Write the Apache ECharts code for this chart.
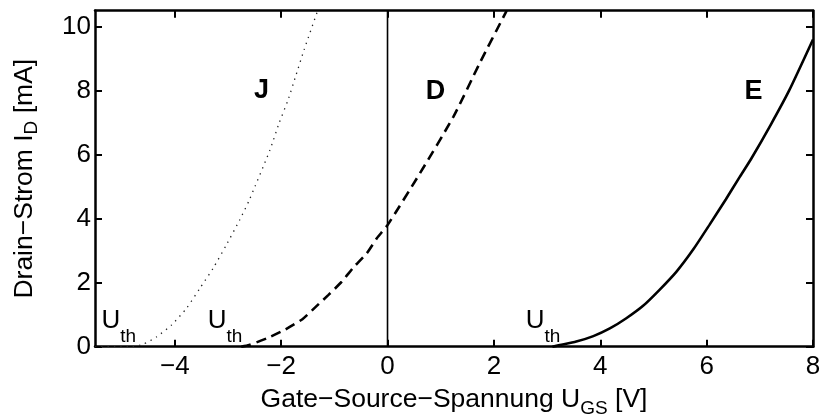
<!DOCTYPE html>
<html>
<head>
<meta charset="utf-8">
<script src="https://cdn.jsdelivr.net/npm/echarts@6/dist/echarts.min.js"></script>
<style>
  html, body { margin: 0; padding: 0; background: #fff; }
  #chart { width: 821px; height: 414px; }
</style>
</head>
<body>
<div id="chart"></div>
<script>
// Transfer characteristics (U_GS in V, I_D in mA)
const jfetU = [-5.5, -4.8, -4.59, -4.34, -4.06, -3.78, -3.53, -3.28, -3.03, -2.78, -2.6, -2.21, -2.04, -1.87, -1.72, -1.57, -1.31];
const jfetI = [0, 0, 0.08, 0.31, 0.68, 1.2, 1.82, 2.45, 3.18, 3.96, 4.58, 6.15, 6.98, 7.71, 8.49, 9.27, 10.52];

const depU = [-2.75, -2.6, -2.23, -1.92, -1.6, -1.36, -1.11, -0.86, -0.64, -0.39, -0.2, 0, 0.61, 1.24, 1.73, 2.2, 2.24];
const depI = [0, 0.05, 0.29, 0.54, 0.86, 1.23, 1.62, 2.03, 2.48, 2.92, 3.39, 3.8, 5.42, 7.19, 8.85, 10.37, 10.5];

const enhU = [3.1, 3.24, 3.55, 3.87, 4.18, 4.49, 4.8, 5.11, 5.43, 5.74, 6.05, 6.36, 6.62, 6.83, 7.21, 7.55, 8];
const enhI = [0, 0.05, 0.16, 0.33, 0.57, 0.89, 1.27, 1.77, 2.34, 3.02, 3.8, 4.6, 5.3, 5.85, 6.95, 8.0, 9.6];

const zeroLineU = [0, 0];
const zeroLineI = [0, 10.5];

const xTicks = [-4, -2, 0, 2, 4, 6, 8];
const yTicks = [0, 2, 4, 6, 8, 10];

// curve letters and threshold labels
const typeLabels = [['J', -2.37, 8.0], ['D', 0.9, 7.97], ['E', 6.88, 7.96]];
const thLabels = [[-5.38, 0.8], [-3.38, 0.8], [2.6, 0.8]];

const FONT = "'Liberation Sans', Arial, Helvetica, sans-serif";

const zip = (xs, ys) => xs.map((x, i) => [x, ys[i]]);
const minus = v => String(v).replace('-', '\u2212');

const axisCommon = {
    axisLine: { show: true, onZero: false, lineStyle: { color: '#000', width: 2.5 } },
    axisTick: { show: true, inside: true, length: 7, lineStyle: { color: '#000', width: 2 } },
    splitLine: { show: false }
};

const chart = echarts.init(document.getElementById('chart'));

chart.setOption({
    animation: false,
    grid: { left: 95, right: 8, top: 10.7, bottom: 67.3, outerBoundsMode: 'none', containLabel: false },
    xAxis: [
        Object.assign({}, axisCommon, {
            type: 'value', min: -5.5, max: 8, position: 'bottom',
            axisTick: Object.assign({}, axisCommon.axisTick, { customValues: xTicks }),
            axisLabel: {
                customValues: xTicks, formatter: minus, margin: 7,
                color: '#000', fontFamily: FONT, fontSize: 26
            },
            name: 'Gate\u2212Source\u2212Spannung U{s|GS} [V]',
            nameLocation: 'middle', nameGap: 33,
            nameTextStyle: {
                color: '#000', fontFamily: FONT, fontSize: 26.5,
                rich: {
                    s: { fontFamily: FONT, fontSize: 19, color: '#000', padding: [20, 0, 0, 0] }
                }
            }
        }),
        Object.assign({}, axisCommon, {
            type: 'value', min: -5.5, max: 8, position: 'top',
            axisTick: Object.assign({}, axisCommon.axisTick, { customValues: xTicks }),
            axisLabel: { show: false }
        })
    ],
    yAxis: [
        Object.assign({}, axisCommon, {
            type: 'value', min: 0, max: 10.5, position: 'left',
            axisTick: Object.assign({}, axisCommon.axisTick, { customValues: yTicks }),
            axisLabel: {
                customValues: yTicks, margin: 4,
                color: '#000', fontFamily: FONT, fontSize: 26
            },
            name: 'Drain\u2212Strom I{s|D} [mA]',
            nameLocation: 'middle', nameGap: 54, nameRotate: 90,
            nameTextStyle: {
                color: '#000', fontFamily: FONT, fontSize: 26.5,
                rich: {
                    s: { fontFamily: FONT, fontSize: 19, color: '#000', padding: [14, 0, 0, 0] }
                }
            }
        }),
        Object.assign({}, axisCommon, {
            type: 'value', min: 0, max: 10.5, position: 'right',
            axisTick: Object.assign({}, axisCommon.axisTick, { customValues: yTicks }),
            axisLabel: { show: false }
        })
    ],
    series: [
        {
            type: 'line', data: zip(zeroLineU, zeroLineI), symbol: 'none',
            lineStyle: { color: '#000', width: 1.6 }, z: 1
        },
        {
            type: 'line', data: zip(jfetU, jfetI), symbol: 'none', smooth: 0.2,
            lineStyle: { color: '#222', width: 1.3, type: [1.3, 5] }
        },
        {
            type: 'line', data: zip(depU, depI), symbol: 'none', smooth: 0.2,
            lineStyle: { color: '#000', width: 2.6, type: [10, 6] }
        },
        {
            type: 'line', data: zip(enhU, enhI), symbol: 'none', smooth: 0.2,
            lineStyle: { color: '#000', width: 2.6 }
        },
        {
            type: 'scatter', symbolSize: 0, silent: true,
            itemStyle: { opacity: 1 },
            data: typeLabels.map(d => ({ value: [d[1], d[2]], name: d[0] })),
            label: {
                show: true, position: 'inside', formatter: p => p.name, opacity: 1,
                color: '#000', fontFamily: FONT, fontSize: 27, fontWeight: 'bold'
            }
        },
        {
            type: 'scatter', symbolSize: 0, silent: true,
            itemStyle: { opacity: 1 },
            data: thLabels,
            label: {
                show: true, position: 'right', distance: 0, opacity: 1, color: '#000',
                formatter: '{u|U}{s|th}',
                rich: {
                    u: { fontFamily: FONT, fontSize: 26, color: '#000', lineHeight: 26, verticalAlign: 'top' },
                    s: { fontFamily: FONT, fontSize: 19, color: '#000', lineHeight: 19, verticalAlign: 'top', padding: [19, 0, 0, 0] }
                }
            }
        }
    ]
});
</script>
</body>
</html>
